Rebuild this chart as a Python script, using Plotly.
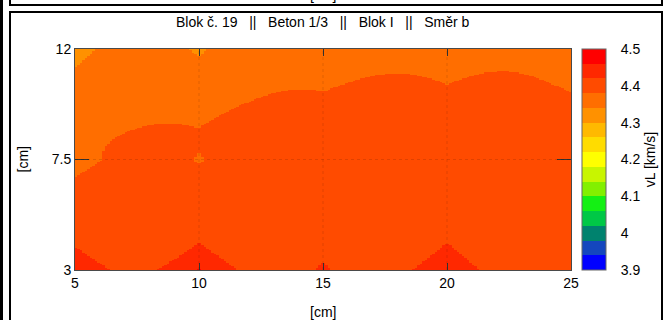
import numpy as np
import plotly.graph_objects as go

# Measurement positions [cm]
x_pos = [5, 10, 15, 20, 25]
y_pos = [3, 7.5, 12]

# Ultrasonic pulse velocity vL [km/s] per row of measurement points
v_y3 = [4.462, 4.472, 4.428, 4.462, 4.41]
v_y75 = [4.366, 4.3755, 4.41, 4.406, 4.40]
v_y12 = [4.295, 4.318, 4.349, 4.352, 4.347]

# Palette: 15 equal bands between 3.9 and 4.5
z_min, z_max = 3.9, 4.5
band_colors = [
    "#0000ff", "#1446be", "#00826e", "#00c846", "#14f014",
    "#82f000", "#c8f500", "#ffff00", "#ffdc00", "#ffb900",
    "#ff9100", "#ff6e00", "#ff4b00", "#ff2800", "#ff0000",
]
cbar_ticks = [3.9, 4.0, 4.1, 4.2, 4.3, 4.4, 4.5]
x_ticks = [5, 10, 15, 20, 25]
y_ticks = [3, 7.5, 12]

# Plot-area geometry in pixels (672 x 320 page)
W, H = 672, 320
L, R, T, B = 75, 571, 49, 270


def px(x):
    return (x - L) / (R - L)


def py(y):
    return (B - y) / (B - T)


# Inverse-distance gridding (weight = 1 / (|dx| + |dy|), distances in cm)
xs, ys = np.meshgrid(x_pos, y_pos)
zs = np.array([v_y3, v_y75, v_y12])
gx = np.linspace(5, 25, 201)[:-1] + 0.05
gy = np.linspace(3, 12, 181)[:-1] + 0.025
GX, GY = np.meshgrid(gx, gy)
dist = np.abs(GX[..., None] - xs.ravel()) + np.abs(GY[..., None] - ys.ravel())
w = 1.0 / dist
grid = (w * zs.ravel()).sum(-1) / w.sum(-1)

n = len(band_colors)
colorscale = []
for i, c in enumerate(band_colors):
    colorscale.append([i / n, c])
    colorscale.append([(i + 1) / n, c])

font = dict(family="Liberation Sans, Arial, sans-serif", size=14, color="black")

fig = go.Figure(
    go.Heatmap(
        x=gx, y=gy, z=grid,
        zmin=z_min, zmax=z_max,
        colorscale=colorscale,
        zsmooth=False,
        hoverinfo="skip",
        colorbar=dict(
            x=px(582), xanchor="left", xpad=0,
            y=0.5, yanchor="middle", ypad=0,
            len=1, lenmode="fraction", thickness=24,
            outlinewidth=1, outlinecolor="#666666",
            tickvals=cbar_ticks,
            ticktext=[f"{v:g}" for v in cbar_ticks],
            ticks="outside", ticklen=12, tickcolor="rgba(0,0,0,0)",
            tickfont=font,
            title=dict(text="vL [km/s]", side="right", font=font),
        ),
    )
)

axis_common = dict(
    showline=True, linecolor="#4a4a4a", linewidth=1, mirror="ticks",
    ticks="inside", tickcolor="#333333", tickwidth=1,
    showgrid=False, zeroline=False, tickfont=font, layer="above traces",
)
fig.update_xaxes(range=[5, 25], tickvals=x_ticks, ticklen=7, **axis_common)
fig.update_yaxes(range=[3, 12], tickvals=y_ticks, ticktext=[f"{v:g}" for v in y_ticks],
                 ticklen=14, **axis_common)

shapes = []
# faint dotted grid at the inner tick positions
for xv in x_ticks[1:-1]:
    shapes.append(dict(type="line", xref="x", yref="paper", x0=xv, x1=xv, y0=0, y1=1,
                       line=dict(color="rgba(0,0,0,0.12)", width=1, dash="dot"), layer="above"))
for yv in y_ticks[1:-1]:
    shapes.append(dict(type="line", xref="paper", yref="y", x0=0, x1=1, y0=yv, y1=yv,
                       line=dict(color="rgba(0,0,0,0.12)", width=1, dash="dot"), layer="above"))
# colour-bar tick dashes on both edges
for v in cbar_ticks[1:-1]:
    yy = (v - z_min) / (z_max - z_min)
    for a, b in ((582, 587), (601, 606)):
        shapes.append(dict(type="line", xref="paper", yref="paper", x0=px(a), x1=px(b), y0=yy, y1=yy,
                           line=dict(color="#333333", width=1)))
# panel frames
shapes.append(dict(type="rect", xref="paper", yref="paper", x0=px(0), x1=px(3), y0=py(-20), y1=py(340),
                   fillcolor="black", line=dict(width=0)))
shapes.append(dict(type="rect", xref="paper", yref="paper", x0=px(10), x1=px(662), y0=py(-30), y1=py(5),
                   line=dict(color="black", width=2)))
shapes.append(dict(type="rect", xref="paper", yref="paper", x0=px(10), x1=px(662), y0=py(12), y1=py(345),
                   line=dict(color="black", width=2)))

annotations = [
    dict(text="Blok č. 19\u00a0\u00a0\u00a0||\u00a0\u00a0\u00a0Beton 1/3\u00a0\u00a0\u00a0||\u00a0\u00a0\u00a0Blok I\u00a0\u00a0\u00a0||\u00a0\u00a0\u00a0Směr b",
         xref="paper", yref="paper", x=0.5, y=py(22), xanchor="center", yanchor="middle",
         showarrow=False, font=font),
    dict(text="[cm]", xref="paper", yref="paper", x=0.5, y=py(312), xanchor="center", yanchor="middle",
         showarrow=False, font=font),
    dict(text="[cm]", xref="paper", yref="paper", x=px(22), y=0.5, xanchor="center", yanchor="middle",
         textangle=-90, showarrow=False, font=font),
    dict(text="[cm]", xref="paper", yref="paper", x=0.5, y=py(-5), xanchor="center", yanchor="middle",
         showarrow=False, font=font),
]

fig.update_layout(
    width=W, height=H,
    margin=dict(l=L, r=W - R, t=T, b=H - B, autoexpand=False),
    paper_bgcolor="white", plot_bgcolor="white",
    font=font, shapes=shapes, annotations=annotations,
)

fig.write_html("out.html")
